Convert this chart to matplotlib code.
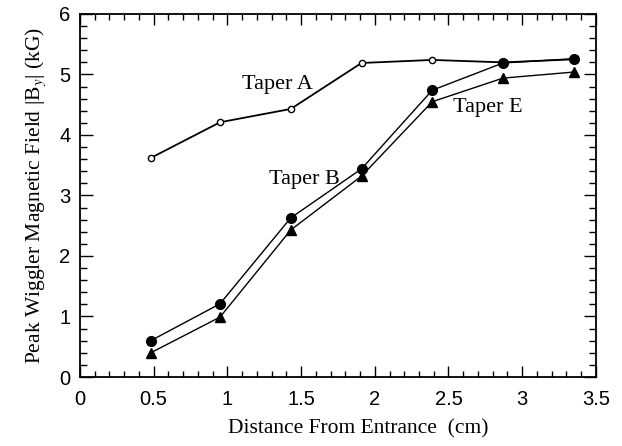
import matplotlib
matplotlib.use("Agg")
import matplotlib.pyplot as plt
from matplotlib.ticker import MultipleLocator

distance = [0.48, 0.95, 1.43, 1.91, 2.39, 2.87, 3.35]
taper_a = [3.62, 4.21, 4.43, 5.19, 5.24, 5.20, 5.25]
taper_b = [0.60, 1.21, 2.63, 3.44, 4.74, 5.19, 5.26]
taper_e = [0.40, 0.99, 2.43, 3.32, 4.55, 4.94, 5.04]

x_ticks = [0, 0.5, 1, 1.5, 2, 2.5, 3, 3.5]
x_ticklabels = ["0", "0.5", "1", "1.5", "2", "2.5", "3", "3.5"]
y_ticks = [0, 1, 2, 3, 4, 5, 6]

plt.rcParams['mathtext.fontset'] = 'stix'

fig = plt.figure(figsize=(6.22, 4.46), dpi=100)
ax = fig.add_axes([0.1286, 0.1547, 0.8294, 0.814])

ax.plot(distance, taper_a, color='black', lw=1.3, marker='o', ms=4.5,
        mfc='white', mec='black', mew=1.0, zorder=3)
ax.plot(distance, taper_b, color='black', lw=1.0, marker='o', ms=7,
        mfc='black', mec='black', zorder=4)
ax.plot(distance, taper_e, color='black', lw=1.0, marker='^', ms=6.5,
        mfc='black', mec='black', zorder=4)

serif = ['Liberation Serif', 'DejaVu Serif']
ax.text(1.34, 4.84, "Taper A", family=serif, fontsize=16, ha='center', va='center')
ax.text(1.52, 3.27, "Taper B", family=serif, fontsize=16, ha='center', va='center')
ax.text(2.77, 4.45, "Taper E", family=serif, fontsize=16, ha='center', va='center')

ax.set_xlim(0, 3.5)
ax.set_ylim(0, 6)
ax.set_xticks(x_ticks)
ax.set_xticklabels(x_ticklabels)
ax.set_yticks(y_ticks)
ax.xaxis.set_minor_locator(MultipleLocator(0.1))
ax.yaxis.set_minor_locator(MultipleLocator(0.2))
ax.tick_params(which='both', direction='in', top=True, right=True, width=1.0,
               labelsize=14.5, labelfontfamily='Liberation Sans')
ax.tick_params(axis='x', which='major', length=8, pad=9)
ax.tick_params(axis='x', which='minor', length=4)
ax.tick_params(axis='y', which='major', length=9, pad=7)
ax.tick_params(axis='y', which='minor', length=5)
for s in ax.spines.values():
    s.set_linewidth(1.3)

ax.set_xlabel("Distance From Entrance  (cm)", family=serif, fontsize=15.5)
ax.xaxis.set_label_coords(0.54, -0.115)
ax.set_ylabel("Peak Wiggler Magnetic Field |B$_y$| (kG)", family=serif, fontsize=15.5, labelpad=8)

fig.savefig("out.png", dpi=100)
